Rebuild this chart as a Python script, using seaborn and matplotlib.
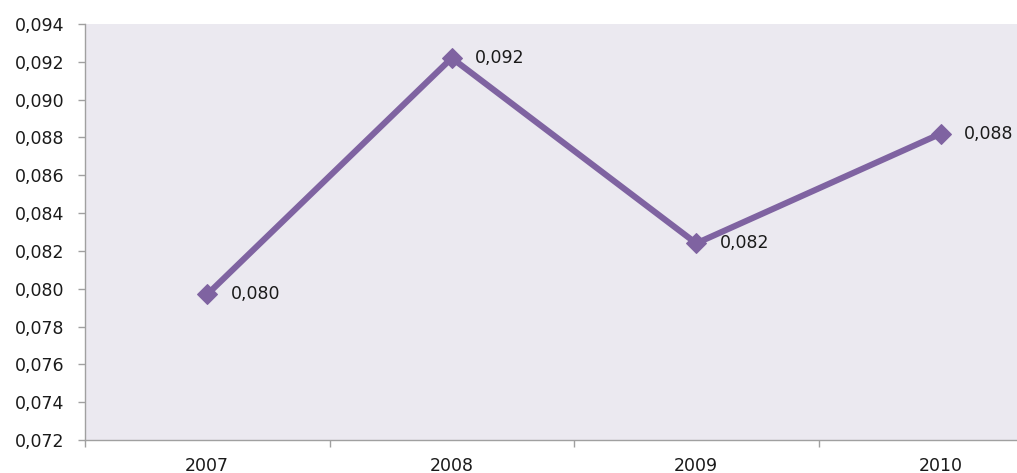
import matplotlib
matplotlib.use("Agg")
import matplotlib.pyplot as plt
import seaborn as sns
import pandas as pd
from matplotlib.ticker import MultipleLocator, FixedLocator, NullFormatter

years = ["2007", "2008", "2009", "2010"]
values = [0.0797, 0.0922, 0.0824, 0.0882]
y_min, y_max, y_step = 0.072, 0.094, 0.002

sns.set_theme(style="white")
plt.rcParams["font.family"] = ["DejaVu Sans"]

df = pd.DataFrame({"pos": range(len(years)), "year": years, "value": values})

fig = plt.figure(figsize=(10.17, 4.73), dpi=100)
ax = fig.add_axes([85 / 1017, 33 / 473, 978 / 1017, 416 / 473])
ax.set_facecolor("#EBE9F0")

line_color = "#7F63A1"
sns.lineplot(data=df, x="pos", y="value", ax=ax, color=line_color,
             linewidth=4.4, marker="D", markersize=10,
             markeredgecolor=line_color, markerfacecolor=line_color)

for p, v in zip(df["pos"], df["value"]):
    ax.annotate(f"{v:.3f}".replace(".", ","), (p, v), xytext=(17, 0),
                textcoords="offset points", ha="left", va="center",
                fontsize=12.5, color="#1A1A1A")

ax.set_xlim(-0.5, len(years) - 0.5)
ax.set_ylim(y_min, y_max)

ax.yaxis.set_major_locator(MultipleLocator(y_step))
ax.yaxis.set_major_formatter(plt.FuncFormatter(lambda v, _: f"{v:.3f}".replace(".", ",")))

# boundaries between categories carry the tick marks, centers carry the labels
ax.xaxis.set_major_locator(FixedLocator([i - 0.5 for i in range(len(years) + 1)]))
ax.xaxis.set_major_formatter(NullFormatter())
ax.xaxis.set_minor_locator(FixedLocator(list(range(len(years)))))
ax.set_xticklabels(years, minor=True)

ax.tick_params(axis="y", which="major", left=True, direction="out", length=5,
               width=1, color="#A0A0A0", pad=10, labelsize=12.5,
               labelcolor="#1A1A1A")
ax.tick_params(axis="x", which="major", bottom=True, direction="out", length=5,
               width=1, color="#A0A0A0")
ax.tick_params(axis="x", which="minor", bottom=True, length=0, pad=12,
               labelsize=12.5, labelcolor="#1A1A1A")

for side in ["top", "right"]:
    ax.spines[side].set_visible(False)
for side in ["left", "bottom"]:
    ax.spines[side].set_color("#A0A0A0")
    ax.spines[side].set_linewidth(1)

ax.set_xlabel("")
ax.set_ylabel("")
ax.grid(False)

fig.savefig("out.png", dpi=100)
